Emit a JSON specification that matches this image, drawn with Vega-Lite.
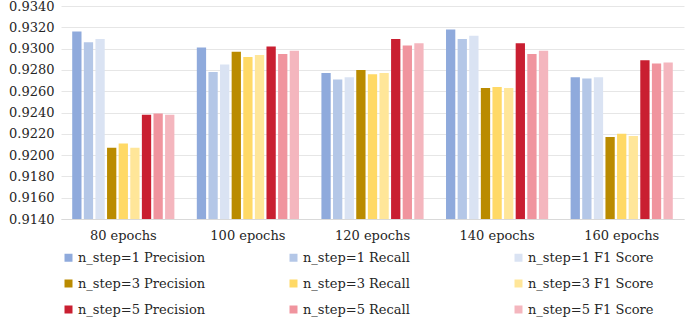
{
  "$schema": "https://vega.github.io/schema/vega-lite/v6.json",
  "width": 623,
  "height": 213,
  "autosize": {"type": "none"},
  "padding": {"left": 61, "top": 6, "right": 1, "bottom": 98},
  "background": "white",
  "config": {
    "font": "DejaVu Serif",
    "view": {"stroke": null},
    "axis": {"labelFont": "DejaVu Serif", "labelFontSize": 13, "labelColor": "#262626", "ticks": false, "title": null}
  },
  "data": {
    "values": [
      {"epochs": "80 epochs", "series": "n_step=1 Precision", "value": 0.9316},
      {"epochs": "80 epochs", "series": "n_step=1 Recall", "value": 0.9306},
      {"epochs": "80 epochs", "series": "n_step=1 F1 Score", "value": 0.9309},
      {"epochs": "80 epochs", "series": "n_step=3 Precision", "value": 0.9207},
      {"epochs": "80 epochs", "series": "n_step=3 Recall", "value": 0.9211},
      {"epochs": "80 epochs", "series": "n_step=3 F1 Score", "value": 0.9207},
      {"epochs": "80 epochs", "series": "n_step=5 Precision", "value": 0.9238},
      {"epochs": "80 epochs", "series": "n_step=5 Recall", "value": 0.9239},
      {"epochs": "80 epochs", "series": "n_step=5 F1 Score", "value": 0.9238},
      {"epochs": "100 epochs", "series": "n_step=1 Precision", "value": 0.9301},
      {"epochs": "100 epochs", "series": "n_step=1 Recall", "value": 0.9278},
      {"epochs": "100 epochs", "series": "n_step=1 F1 Score", "value": 0.9285},
      {"epochs": "100 epochs", "series": "n_step=3 Precision", "value": 0.9297},
      {"epochs": "100 epochs", "series": "n_step=3 Recall", "value": 0.9292},
      {"epochs": "100 epochs", "series": "n_step=3 F1 Score", "value": 0.9294},
      {"epochs": "100 epochs", "series": "n_step=5 Precision", "value": 0.9302},
      {"epochs": "100 epochs", "series": "n_step=5 Recall", "value": 0.9295},
      {"epochs": "100 epochs", "series": "n_step=5 F1 Score", "value": 0.9298},
      {"epochs": "120 epochs", "series": "n_step=1 Precision", "value": 0.9277},
      {"epochs": "120 epochs", "series": "n_step=1 Recall", "value": 0.9271},
      {"epochs": "120 epochs", "series": "n_step=1 F1 Score", "value": 0.9273},
      {"epochs": "120 epochs", "series": "n_step=3 Precision", "value": 0.928},
      {"epochs": "120 epochs", "series": "n_step=3 Recall", "value": 0.9276},
      {"epochs": "120 epochs", "series": "n_step=3 F1 Score", "value": 0.9277},
      {"epochs": "120 epochs", "series": "n_step=5 Precision", "value": 0.9309},
      {"epochs": "120 epochs", "series": "n_step=5 Recall", "value": 0.9303},
      {"epochs": "120 epochs", "series": "n_step=5 F1 Score", "value": 0.9305},
      {"epochs": "140 epochs", "series": "n_step=1 Precision", "value": 0.9318},
      {"epochs": "140 epochs", "series": "n_step=1 Recall", "value": 0.9309},
      {"epochs": "140 epochs", "series": "n_step=1 F1 Score", "value": 0.9312},
      {"epochs": "140 epochs", "series": "n_step=3 Precision", "value": 0.9263},
      {"epochs": "140 epochs", "series": "n_step=3 Recall", "value": 0.9264},
      {"epochs": "140 epochs", "series": "n_step=3 F1 Score", "value": 0.9263},
      {"epochs": "140 epochs", "series": "n_step=5 Precision", "value": 0.9305},
      {"epochs": "140 epochs", "series": "n_step=5 Recall", "value": 0.9295},
      {"epochs": "140 epochs", "series": "n_step=5 F1 Score", "value": 0.9298},
      {"epochs": "160 epochs", "series": "n_step=1 Precision", "value": 0.9273},
      {"epochs": "160 epochs", "series": "n_step=1 Recall", "value": 0.9272},
      {"epochs": "160 epochs", "series": "n_step=1 F1 Score", "value": 0.9273},
      {"epochs": "160 epochs", "series": "n_step=3 Precision", "value": 0.9217},
      {"epochs": "160 epochs", "series": "n_step=3 Recall", "value": 0.922},
      {"epochs": "160 epochs", "series": "n_step=3 F1 Score", "value": 0.9218},
      {"epochs": "160 epochs", "series": "n_step=5 Precision", "value": 0.9289},
      {"epochs": "160 epochs", "series": "n_step=5 Recall", "value": 0.9286},
      {"epochs": "160 epochs", "series": "n_step=5 F1 Score", "value": 0.9287}
    ]
  },
  "mark": {"type": "bar", "clip": true},
  "encoding": {
    "x": {
      "field": "epochs", "type": "nominal", "sort": null,
      "scale": {"paddingInner": 0.18, "paddingOuter": 0.09},
      "axis": {"labelAngle": 0, "labelPadding": 10, "domainColor": "#D9D9D9", "grid": false}
    },
    "xOffset": {
      "field": "series", "type": "nominal", "sort": null,
      "scale": {"paddingInner": 0.2, "paddingOuter": 0}
    },
    "y": {
      "field": "value", "type": "quantitative",
      "scale": {"domain": [0.914, 0.934], "zero": false, "nice": false},
      "axis": {"format": ".4f", "values": [0.914, 0.916, 0.918, 0.92, 0.922, 0.924, 0.926, 0.928, 0.93, 0.932, 0.934], "domain": false, "gridColor": "#E6E6E6", "labelPadding": 7}
    },
    "color": {
      "field": "series", "type": "nominal",
      "scale": {
        "domain": ["n_step=1 Precision", "n_step=1 Recall", "n_step=1 F1 Score", "n_step=3 Precision", "n_step=3 Recall", "n_step=3 F1 Score", "n_step=5 Precision", "n_step=5 Recall", "n_step=5 F1 Score"],
        "range": ["#8FAADC", "#B4C7E7", "#DAE3F3", "#BA8B00", "#FFD966", "#FFE699", "#C91F31", "#F0949E", "#F4B6BE"]
      },
      "legend": {
        "title": null, "orient": "none", "direction": "horizontal", "legendX": 1, "legendY": 245, "columns": 3,
        "gridAlign": "all",
        "symbolType": "square", "symbolSize": 64, "symbolStrokeWidth": 0, "labelOffset": 3,
        "labelFont": "DejaVu Serif", "labelFontSize": 13, "labelColor": "#262626",
        "columnPadding": 81, "rowPadding": 12, "labelLimit": 300
      }
    }
  }
}
